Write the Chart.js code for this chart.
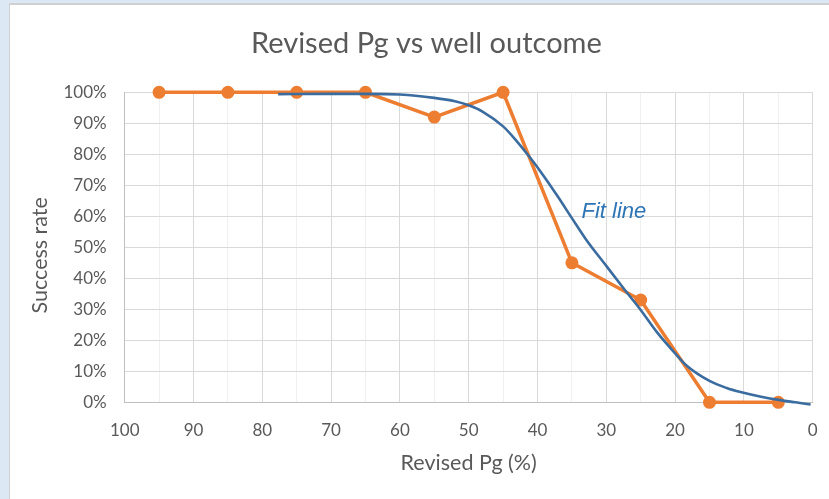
<!DOCTYPE html>
<html><head><meta charset="utf-8">
<script src="https://cdn.jsdelivr.net/npm/chart.js@4.4.0/dist/chart.umd.min.js"></script>
<style>html,body{margin:0;padding:0;background:#dde8f5;overflow:hidden}
#wrap{position:absolute;left:0;top:0;width:829px;height:499px}
</style></head><body><div id="wrap"><canvas id="c" width="829" height="499"></canvas></div>
<script>
const pgValues = [95, 85, 75, 65, 55, 45, 35, 25, 15, 5];
const successRates = [1, 1, 1, 1, 0.92, 1, 0.45, 0.33, 0, 0];
const fitPg = [77.7, 70, 65, 60, 55, 52, 50, 48, 45, 43, 41, 39, 37, 35, 33, 30, 27.5, 25, 22.7, 20, 18.3, 15, 12.5, 10.5, 7.5, 4.7, 2.5, 0.3];
const fitRate = [0.994, 0.995, 0.995, 0.993, 0.982, 0.971, 0.958, 0.938, 0.89, 0.842, 0.787, 0.727, 0.662, 0.594, 0.527, 0.44, 0.368, 0.298, 0.228, 0.158, 0.118, 0.069, 0.046, 0.033, 0.018, 0.007, 0.0, -0.007];
const xTickValues = [100, 90, 80, 70, 60, 50, 40, 30, 20, 10, 0];
const fitLabelText = 'Fit line';
const fitLabelAt = [33.6, 0.595];
const yTitleText = 'Success rate';

const FONT = 'Lato, "Open Sans", sans-serif';
const GREY = '#595959';

const bgPlugin = {
  id: 'bg',
  beforeDraw(chart) {
    const ctx = chart.ctx;
    ctx.save();
    ctx.fillStyle = '#dde8f5'; ctx.fillRect(0, 0, 829, 499);
    ctx.fillStyle = '#d0d0d0'; ctx.fillRect(9, 3, 820, 496);
    ctx.fillStyle = '#ffffff'; ctx.fillRect(10, 5, 819, 494);
    ctx.restore();
  }
};
const labelPlugin = {
  id: 'fitLabel',
  afterDatasetsDraw(chart) {
    const ctx = chart.ctx, xs = chart.scales.x, ys = chart.scales.y;
    ctx.save();
    ctx.font = 'italic 22px "Liberation Sans", Arial, sans-serif';
    ctx.fillStyle = '#2e75b6';
    ctx.textBaseline = 'alphabetic';
    ctx.textAlign = 'left';
    ctx.fillText(fitLabelText, xs.getPixelForValue(fitLabelAt[0]), ys.getPixelForValue(fitLabelAt[1]));
    // vertical axis title
    ctx.translate(40, (ys.top + ys.bottom) / 2 + 8);
    ctx.rotate(-Math.PI / 2);
    ctx.font = '21.5px ' + FONT;
    ctx.fillStyle = GREY;
    ctx.textAlign = 'center';
    ctx.textBaseline = 'middle';
    ctx.fillText(yTitleText, 0, 0);
    ctx.restore();
  }
};

new Chart(document.getElementById('c'), {
  type: 'line',
  data: {
    datasets: [
      {
        label: 'Fit',
        data: fitPg.map((x, i) => ({x, y: fitRate[i]})),
        borderColor: '#3b6c9f',
        borderWidth: 2.6,
        pointRadius: 0,
        cubicInterpolationMode: 'monotone',
        fill: false,
        order: 0
      },
      {
        label: 'Observed',
        data: pgValues.map((x, i) => ({x, y: successRates[i]})),
        borderColor: '#ed7d31',
        backgroundColor: '#ed7d31',
        borderWidth: 3.5,
        pointRadius: 6.5,
        pointHoverRadius: 6.5,
        pointBorderWidth: 0,
        tension: 0,
        fill: false,
        order: 1
      }
    ]
  },
  options: {
    responsive: false,
    animation: false,
    events: [],
    clip: false,
    layout: {padding: {left: 40, right: 16.3, top: 0, bottom: 0}},
    plugins: {
      legend: {display: false},
      tooltip: {enabled: false},
      title: {
        display: true,
        text: 'Revised Pg vs well outcome',
        color: GREY,
        font: {family: FONT, size: 29, weight: 'normal', lineHeight: 1.2},
        padding: {top: 26.6, bottom: 30.9}
      }
    },
    scales: {
      x: {
        type: 'linear',
        reverse: true,
        min: 0, max: 100,
        afterBuildTicks(scale) {
          const t = [];
          for (let v = 0; v <= 100; v += 5) t.push({value: v});
          scale.ticks = t;
        },
        afterFit(scale) { scale.height = 96.7; },
        ticks: {
          autoSkip: false, maxRotation: 0, minRotation: 0,
          padding: 18,
          color: GREY,
          font: {family: FONT, size: 17},
          callback: (v) => xTickValues.includes(v) ? String(v) : ''
        },
        grid: {
          drawTicks: false,
          color: (c) => (c.tick && c.tick.value % 10 === 0) ? '#d9d9d9' : '#f0f0f0',
          lineWidth: 1
        },
        border: {display: true, color: '#bfbfbf', width: 1},
        title: {
          display: true, text: 'Revised Pg (%)', color: GREY,
          font: {family: FONT, size: 21.5, lineHeight: 1.2},
          padding: {top: 0, bottom: 23.1}
        }
      },
      y: {
        type: 'linear',
        min: 0, max: 1,
        afterFit(scale) { scale.width = 84.7; },
        ticks: {
          stepSize: 0.1,
          padding: 18,
          color: GREY,
          font: {family: FONT, size: 17},
          callback: (v) => Math.round(v * 100) + '%'
        },
        grid: {drawTicks: false, color: '#d9d9d9', lineWidth: 1},
        border: {display: true, color: '#bfbfbf', width: 1},
        title: {display: false}
      }
    }
  },
  plugins: [bgPlugin, labelPlugin]
});
</script></body></html>
